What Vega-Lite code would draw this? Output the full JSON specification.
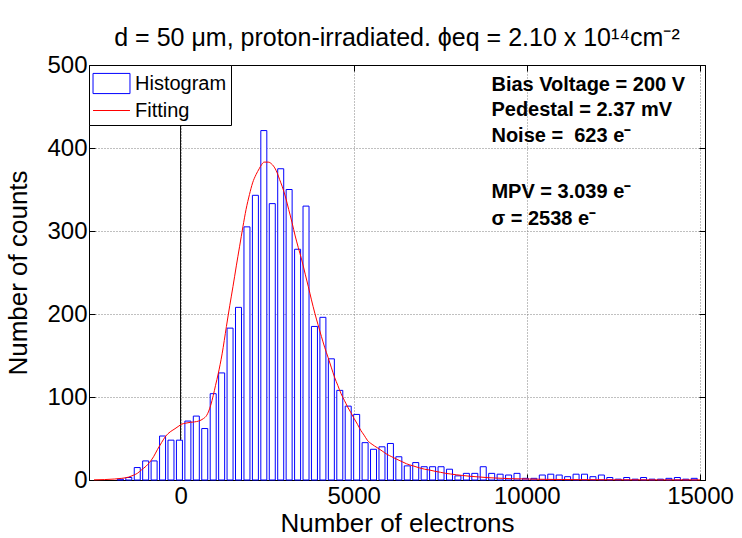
{
  "$schema": "https://vega.github.io/schema/vega-lite/v6.json",
  "autosize": "none",
  "width": 616,
  "height": 415,
  "padding": {"left": 89, "top": 65, "right": 37, "bottom": 58},
  "background": "white",
  "config": {
    "font": "Liberation Sans",
    "view": {"stroke": "black", "strokeWidth": 1},
    "axis": {
      "labelFont": "Liberation Sans",
      "titleFont": "Liberation Sans",
      "labelFontSize": 24,
      "titleFontSize": 26,
      "titleFontWeight": "normal",
      "labelColor": "black",
      "titleColor": "black",
      "domainColor": "black",
      "tickColor": "black",
      "tickSize": -6,
      "gridColor": "#808080",
      "gridDash": [1, 2],
      "gridWidth": 1
    },
    "legend": {
      "title": null,
      "orient": "top-left",
      "offset": 0,
      "padding": 4,
      "strokeColor": "black",
      "fillColor": "white",
      "labelFont": "Liberation Sans",
      "labelFontSize": 20,
      "labelColor": "black",
      "symbolSize": 784,
      "symbolStrokeWidth": 1,
      "symbolFillColor": "white",
      "symbolOffset": 4,
      "rowPadding": 0,
      "labelOffset": 9
    }
  },
  "title": {
    "text": "d = 50 μm, proton-irradiated. ϕeq = 2.10 x 10¹⁴cm⁻²",
    "fontSize": 25,
    "fontWeight": "normal",
    "font": "Liberation Sans",
    "color": "black",
    "frame": "group",
    "anchor": "middle",
    "offset": 2
  },
  "datasets": {
    "hist": [
      {"x": -1739, "count": 1}, {"x": -1495, "count": 3}, {"x": -1251, "count": 15},
      {"x": -1008, "count": 23}, {"x": -764, "count": 23}, {"x": -520, "count": 53},
      {"x": -277, "count": 48}, {"x": -33, "count": 48}, {"x": 211, "count": 71},
      {"x": 455, "count": 77}, {"x": 698, "count": 62}, {"x": 942, "count": 104},
      {"x": 1186, "count": 129}, {"x": 1429, "count": 183}, {"x": 1673, "count": 208},
      {"x": 1917, "count": 305}, {"x": 2161, "count": 343}, {"x": 2404, "count": 421},
      {"x": 2648, "count": 333}, {"x": 2892, "count": 375}, {"x": 3135, "count": 350},
      {"x": 3379, "count": 278}, {"x": 3623, "count": 330}, {"x": 3866, "count": 185},
      {"x": 4110, "count": 196}, {"x": 4354, "count": 146}, {"x": 4598, "count": 108},
      {"x": 4841, "count": 89}, {"x": 5085, "count": 79}, {"x": 5329, "count": 45},
      {"x": 5572, "count": 37}, {"x": 5816, "count": 40}, {"x": 6060, "count": 44},
      {"x": 6303, "count": 28}, {"x": 6547, "count": 17}, {"x": 6791, "count": 21},
      {"x": 7035, "count": 16}, {"x": 7278, "count": 16}, {"x": 7522, "count": 16},
      {"x": 7766, "count": 13}, {"x": 8009, "count": 5}, {"x": 8253, "count": 8},
      {"x": 8497, "count": 8}, {"x": 8740, "count": 16}, {"x": 8984, "count": 8},
      {"x": 9228, "count": 7}, {"x": 9472, "count": 6}, {"x": 9715, "count": 8},
      {"x": 9959, "count": 2}, {"x": 10203, "count": 2}, {"x": 10446, "count": 6},
      {"x": 10690, "count": 7}, {"x": 10934, "count": 6}, {"x": 11177, "count": 4},
      {"x": 11421, "count": 7}, {"x": 11665, "count": 7}, {"x": 11909, "count": 4},
      {"x": 12152, "count": 6}, {"x": 12396, "count": 3}, {"x": 12640, "count": 1},
      {"x": 12883, "count": 3}, {"x": 13127, "count": 1}, {"x": 13371, "count": 3},
      {"x": 13614, "count": 1}, {"x": 13858, "count": 1}, {"x": 14102, "count": 2},
      {"x": 14346, "count": 3}, {"x": 14589, "count": 1}, {"x": 14833, "count": 2}
    ],
    "fit": [
      {"x": -2500, "y": 0.2}, {"x": -2200, "y": 0.5}, {"x": -1900, "y": 1.2},
      {"x": -1700, "y": 2}, {"x": -1500, "y": 3.5}, {"x": -1370, "y": 5.6},
      {"x": -1250, "y": 8}, {"x": -1135, "y": 12}, {"x": -1000, "y": 16.5},
      {"x": -900, "y": 21}, {"x": -780, "y": 28}, {"x": -664, "y": 37},
      {"x": -550, "y": 45}, {"x": -426, "y": 53}, {"x": -300, "y": 58},
      {"x": -190, "y": 61}, {"x": -50, "y": 65}, {"x": 17, "y": 67},
      {"x": 150, "y": 68.5}, {"x": 284, "y": 69.5}, {"x": 400, "y": 70},
      {"x": 519, "y": 71}, {"x": 661, "y": 74}, {"x": 756, "y": 78},
      {"x": 803, "y": 82}, {"x": 870, "y": 90}, {"x": 945, "y": 102},
      {"x": 1010, "y": 114}, {"x": 1087, "y": 128}, {"x": 1200, "y": 152},
      {"x": 1324, "y": 185}, {"x": 1420, "y": 210}, {"x": 1513, "y": 233},
      {"x": 1610, "y": 258}, {"x": 1703, "y": 281}, {"x": 1800, "y": 305},
      {"x": 1891, "y": 326}, {"x": 1990, "y": 344}, {"x": 2080, "y": 358},
      {"x": 2180, "y": 368}, {"x": 2270, "y": 375}, {"x": 2340, "y": 380},
      {"x": 2412, "y": 383}, {"x": 2530, "y": 383}, {"x": 2648, "y": 380},
      {"x": 2720, "y": 376}, {"x": 2790, "y": 370}, {"x": 2860, "y": 362},
      {"x": 2932, "y": 354}, {"x": 3030, "y": 341}, {"x": 3122, "y": 326},
      {"x": 3220, "y": 310}, {"x": 3310, "y": 294}, {"x": 3400, "y": 280},
      {"x": 3500, "y": 265}, {"x": 3600, "y": 248}, {"x": 3689, "y": 233},
      {"x": 3780, "y": 217}, {"x": 3877, "y": 201}, {"x": 3970, "y": 187},
      {"x": 4067, "y": 173}, {"x": 4160, "y": 160}, {"x": 4257, "y": 148},
      {"x": 4350, "y": 136}, {"x": 4445, "y": 124}, {"x": 4540, "y": 114},
      {"x": 4635, "y": 104}, {"x": 4730, "y": 96}, {"x": 4825, "y": 88},
      {"x": 4920, "y": 81}, {"x": 5013, "y": 74}, {"x": 5110, "y": 67},
      {"x": 5202, "y": 60}, {"x": 5300, "y": 54}, {"x": 5392, "y": 48},
      {"x": 5530, "y": 43}, {"x": 5676, "y": 39}, {"x": 5820, "y": 35},
      {"x": 5960, "y": 31}, {"x": 6100, "y": 28}, {"x": 6244, "y": 25},
      {"x": 6400, "y": 22}, {"x": 6527, "y": 19.5}, {"x": 6715, "y": 17},
      {"x": 6905, "y": 14.5}, {"x": 7050, "y": 13}, {"x": 7189, "y": 12},
      {"x": 7350, "y": 10.5}, {"x": 7500, "y": 9.3}, {"x": 7662, "y": 8},
      {"x": 7800, "y": 7.2}, {"x": 7960, "y": 6.3}, {"x": 8134, "y": 5.5},
      {"x": 8350, "y": 4.5}, {"x": 8607, "y": 3.7}, {"x": 8850, "y": 2.9},
      {"x": 9082, "y": 2.4}, {"x": 9300, "y": 2}, {"x": 9553, "y": 1.6},
      {"x": 10000, "y": 1.2}, {"x": 10500, "y": 0.8}, {"x": 11000, "y": 0.6},
      {"x": 11500, "y": 0.4}, {"x": 12500, "y": 0.25}, {"x": 13500, "y": 0.15},
      {"x": 15000, "y": 0.1}
    ],
    "notes": [
      {"x": 8977, "y": 476, "label": "Bias Voltage = 200 V"},
      {"x": 8977, "y": 446, "label": "Pedestal = 2.37 mV"},
      {"x": 8977, "y": 414, "label": "Noise = \u00a0623 e⁻"},
      {"x": 8977, "y": 347, "label": "MPV = 3.039 e⁻"},
      {"x": 8977, "y": 314, "label": "σ = 2538 e⁻"}
    ]
  },
  "resolve": {"axis": {"x": "independent", "y": "independent"}},
  "layer": [
    {
      "data": {"values": [{"x": 0}]},
      "mark": {"type": "rule", "color": "black", "strokeWidth": 1},
      "encoding": {
        "x": {
          "field": "x", "type": "quantitative",
          "scale": {"domain": [-2500, 15000], "nice": false, "zero": false},
          "axis": {
            "orient": "bottom", "values": [0, 5000, 10000, 15000], "format": "d",
            "title": "Number of electrons", "grid": true, "labelPadding": 10, "titlePadding": 2
          }
        }
      }
    },
    {
      "data": {"name": "hist"},
      "mark": {"type": "bar", "fill": "white", "strokeWidth": 1, "width": 6},
      "encoding": {
        "x": {
          "field": "x", "type": "quantitative",
          "scale": {"domain": [-2500, 15000], "nice": false, "zero": false},
          "axis": {"orient": "top", "values": [0, 5000, 10000, 15000], "labels": false, "title": null, "grid": false}
        },
        "y": {
          "field": "count", "type": "quantitative",
          "scale": {"domain": [0, 500], "nice": false},
          "axis": {
            "orient": "left", "values": [0, 100, 200, 300, 400, 500],
            "title": "Number of counts", "grid": true, "labelPadding": 8, "titlePadding": 15
          }
        },
        "stroke": {
          "datum": "Histogram", "type": "nominal",
          "scale": {"domain": ["Histogram", "Fitting"], "range": ["#0000ff", "#ff0000"]},
          "legend": {"title": null, "orient": "top-left"}
        }
      }
    },
    {
      "data": {"name": "fit"},
      "mark": {"type": "line", "strokeWidth": 1, "interpolate": "monotone"},
      "encoding": {
        "x": {"field": "x", "type": "quantitative", "axis": null},
        "y": {
          "field": "y", "type": "quantitative",
          "axis": {"orient": "right", "values": [0, 100, 200, 300, 400, 500], "labels": false, "title": null, "grid": false}
        },
        "stroke": {"datum": "Fitting", "type": "nominal"}
      }
    },
    {
      "data": {"name": "fit"},
      "mark": {"type": "point", "size": 0, "strokeWidth": 0},
      "encoding": {
        "x": {"field": "x", "type": "quantitative", "axis": null},
        "y": {"field": "y", "type": "quantitative", "axis": null},
        "shape": {
          "datum": "Fitting", "type": "nominal",
          "scale": {"domain": ["Histogram", "Fitting"], "range": ["M-1.32,-0.72H1.32V0.72H-1.32Z", "M-1.32,0H1.32"]},
          "legend": {"title": null, "orient": "top-left"}
        }
      }
    },
    {
      "data": {"name": "notes"},
      "mark": {"type": "text", "align": "left", "baseline": "middle", "fontWeight": "bold", "fontSize": 20, "font": "Liberation Sans", "color": "black"},
      "encoding": {
        "x": {"field": "x", "type": "quantitative", "axis": null},
        "y": {"field": "y", "type": "quantitative", "axis": null},
        "text": {"field": "label"}
      }
    }
  ]
}
